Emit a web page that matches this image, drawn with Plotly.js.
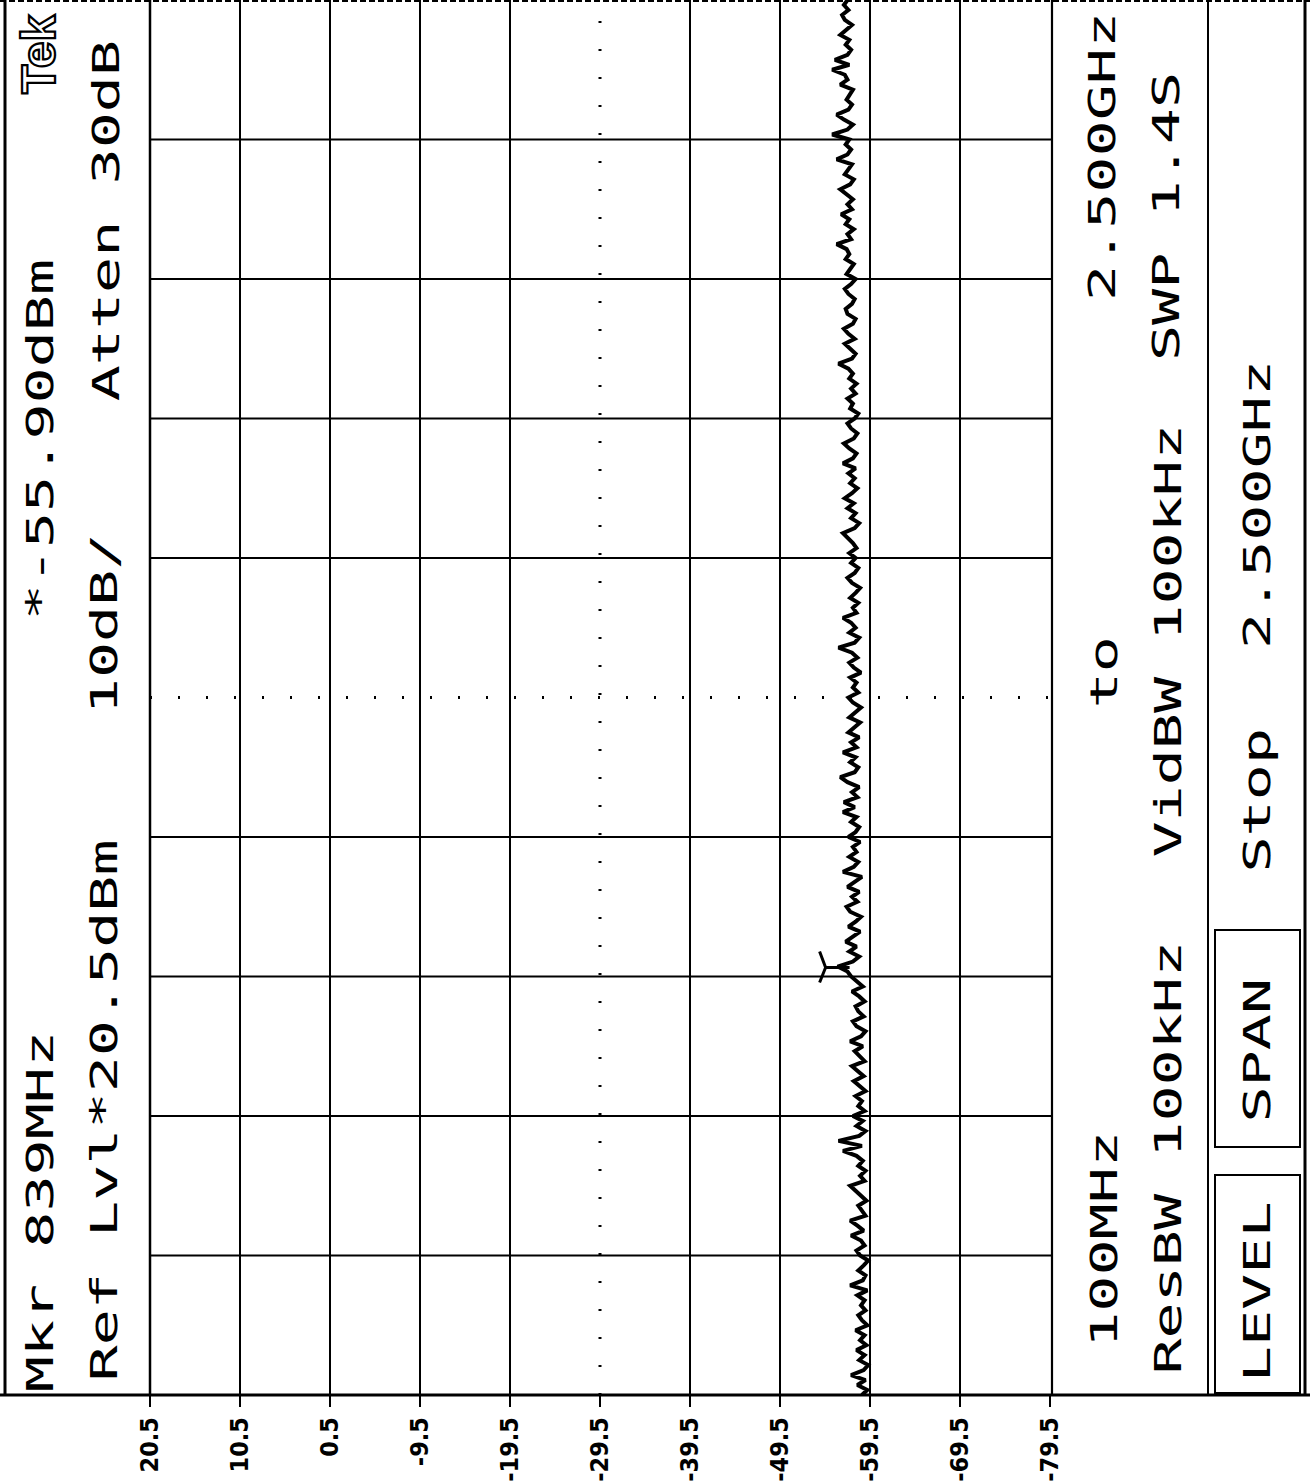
<!DOCTYPE html>
<html>
<head>
<meta charset="utf-8">
<script src="https://cdn.plot.ly/plotly-3.0.1.min.js"></script>
<style>
  html, body { margin: 0; padding: 0; background: #fff; }
  #chart { width: 1310px; height: 1484px; }
  .annotation:not([data-index="15"]) .annotation-text {
    transform-box: fill-box;
    transform-origin: center;
    transform: scaleX(1.58);
  }
  .annotation[data-index="15"] .annotation-text {
    stroke: #000;
    stroke-width: 2.2px;
  }
</style>
</head>
<body>
<div id="chart"></div>
<script>
// ---------------- data ----------------
const FREQ_START_MHZ = 100;
const FREQ_STOP_MHZ = 2500;

// Displayed trace level (dBm), from start frequency (bottom) to stop frequency (top)
const traceLevel_dBm = [
  -58.6,-59.2,-58.1,-59.0,-57.4,-58.8,-59.3,-58.3,-58.9,-58.0,
  -59.1,-58.4,-58.9,-57.9,-59.2,-58.6,-58.2,-59.0,-58.5,-58.9,
  -58.1,-59.2,-57.3,-58.7,-59.0,-58.2,-58.8,-59.3,-58.4,-58.0,
  -58.9,-58.5,-57.4,-58.8,-58.1,-57.3,-59.0,-58.6,-58.2,-59.1,
  -58.5,-58.0,-57.3,-58.9,-58.4,-59.0,-58.2,-58.7,-58.0,-56.5,
  -58.6,-56.0,-58.3,-59.0,-58.0,-58.7,-57.6,-58.9,-58.2,-58.6,
  -57.9,-59.0,-58.3,-57.7,-58.8,-58.1,-57.5,-58.9,-58.4,-57.8,
  -58.7,-57.3,-58.5,-59.0,-58.0,-57.6,-58.8,-58.2,-57.9,-58.9,
  -58.3,-57.5,-58.7,-58.1,-57.4,-57.0,-55.9,-57.6,-58.3,-57.2,
  -58.0,-56.8,-57.6,-58.4,-57.1,-57.9,-58.5,-57.3,-56.9,-58.1,
  -57.5,-58.3,-57.0,-57.8,-58.6,-56.5,-57.7,-58.2,-57.2,-58.0,
  -57.6,-58.4,-57.1,-57.9,-58.3,-57.4,-58.0,-56.5,-57.8,-56.6,
  -58.1,-57.5,-58.3,-57.0,-56.2,-57.8,-58.2,-57.3,-57.9,-56.5,
  -58.0,-57.4,-58.3,-57.1,-57.8,-58.4,-57.2,-57.9,-58.5,-57.6,
  -57.1,-58.2,-57.6,-58.0,-57.3,-58.5,-57.7,-57.2,-58.1,-57.5,
  -56.0,-57.8,-58.3,-57.2,-57.9,-57.4,-56.5,-58.0,-57.6,-58.2,
  -57.3,-57.9,-58.4,-57.5,-57.0,-57.8,-58.2,-57.4,-57.9,-57.2,
  -58.0,-57.6,-57.1,-56.5,-57.8,-58.3,-57.4,-57.9,-57.0,-57.7,
  -56.7,-57.5,-58.1,-57.3,-57.8,-57.1,-57.9,-56.5,-57.6,-58.0,
  -57.2,-56.6,-57.7,-58.1,-57.4,-57.0,-57.8,-58.2,-57.3,-57.6,
  -57.0,-57.9,-57.4,-58.0,-57.2,-57.6,-57.1,-56.0,-57.5,-57.9,
  -57.3,-56.7,-57.8,-57.1,-56.6,-57.6,-57.9,-57.0,-56.8,-57.5,
  -57.8,-57.1,-56.7,-57.4,-57.9,-56.9,-57.3,-57.7,-56.8,-57.2,
  -56.9,-55.8,-57.4,-57.0,-57.7,-56.8,-57.2,-56.3,-57.5,-57.0,
  -57.6,-56.9,-56.2,-57.3,-57.7,-56.7,-57.1,-57.5,-55.8,-57.0,
  -57.4,-56.8,-57.2,-55.3,-57.0,-57.6,-56.6,-55.8,-57.1,-57.5,
  -56.9,-57.3,-57.6,-56.2,-57.0,-56.7,-55.3,-57.2,-55.6,-57.0,
  -57.4,-56.8,-57.2,-56.2,-56.9,-57.5,-56.7,-56.4,-57.1,-56.6,
  -57.0
];

// Level axis ticks (dBm)
const levelTickVals = [20.5, 10.5, 0.5, -9.5, -19.5, -29.5, -39.5, -49.5, -59.5, -69.5, -79.5];
const levelTickText = ['20.5', '10.5', '0.5', '-9.5', '-19.5', '-29.5', '-39.5', '-49.5', '-59.5', '-69.5', '-79.5'];
const levelCenterTick = -29.5;

// Frequency graticule divisions (MHz)
const freqGridMHz = [340, 580, 820, 1060, 1300, 1540, 1780, 2020, 2260];
const freqCenterMHz = 1300;

// Marker
const markerFreqMHz = 839;
const markerLevel_dBm = -55.90;

// Readout texts
const readoutTexts = [
  'Mkr 839MHz', '*-55.90dBm', 'Ref Lvl*20.5dBm', '10dB/', 'Atten 30dB',
  '100MHz', 'to', '2.500GHz', 'ResBW 100kHz', 'VidBW 100kHz', 'SWP 1.4S',
  'LEVEL', 'SPAN', 'Stop', '2.500GHz', 'Tek'
];

// ---------------- layout helpers ----------------
const W = 1310, H = 1484;
const PL = 150, PR = 1050, PT = 0, PB = 1395;
const PX = x => (x - PL) / (PR - PL);
const PY = y => (PB - y) / (PB - PT);

const n = traceLevel_dBm.length;
const stepMHz = (FREQ_STOP_MHZ - FREQ_START_MHZ) / (n - 1);
const traceFreq = traceLevel_dBm.map((_, i) => FREQ_START_MHZ + i * stepMHz);

const traces = [{
  type: 'scatter',
  mode: 'lines',
  x: traceLevel_dBm,
  y: traceFreq,
  line: { color: '#000', width: 4 },
  hoverinfo: 'skip',
  showlegend: false
}];

const shapes = [];
const L = (x0, y0, x1, y1, w, dash) => ({
  type: 'line', xref: 'paper', yref: 'paper',
  x0: PX(x0), y0: PY(y0), x1: PX(x1), y1: PY(y1),
  line: { color: '#000', width: w, dash: dash || 'solid' }
});

// frame lines
shapes.push(L(5, 0, 5, 1395, 3));
shapes.push(L(150, 0, 150, 1395, 2.5));
shapes.push(L(1052, 0, 1052, 1395, 2.2));
shapes.push(L(1208, 0, 1208, 1395, 2));
shapes.push(L(1305, 0, 1305, 1395, 3));
shapes.push(L(0, 1395, 1310, 1395, 3));
shapes.push(L(0, 1, 1310, 1, 2, '6px,3px'));

// vertical graticule (level divisions)
levelTickVals.forEach(v => {
  if (v === levelTickVals[0] || v === levelTickVals[levelTickVals.length - 1]) return;
  const dotted = v === levelCenterTick;
  shapes.push({
    type: 'line', xref: 'x', yref: 'paper', x0: v, x1: v, y0: 0, y1: 1,
    line: { color: '#000', width: dotted ? 3 : 2, dash: dotted ? '2px,26px' : 'solid' }
  });
});
// horizontal graticule (frequency divisions)
freqGridMHz.forEach(f => {
  const dotted = f === freqCenterMHz;
  shapes.push({
    type: 'line', xref: 'paper', yref: 'y', x0: 0, x1: PX(1052), y0: f, y1: f,
    line: { color: '#000', width: dotted ? 3 : 2, dash: dotted ? '2px,26px' : 'solid' }
  });
});

// soft-key boxes
const R = (x0, y0, x1, y1) => ({
  type: 'rect', xref: 'paper', yref: 'paper',
  x0: PX(x0), y0: PY(y0), x1: PX(x1), y1: PY(y1),
  line: { color: '#000', width: 2 }, fillcolor: 'rgba(0,0,0,0)'
});
shapes.push(R(1215, 930, 1300, 1147));
shapes.push(R(1215, 1175, 1300, 1393));

// marker symbol
shapes.push({
  type: 'path', xref: 'x', yref: 'y',
  xsizemode: 'pixel', ysizemode: 'pixel',
  xanchor: markerLevel_dBm, yanchor: markerFreqMHz,
  path: 'M 12 -2 L -12 -2 M -12 -2 L -18 14 M -12 -2 L -18 -17',
  line: { color: '#000', width: 3 }
});

// readout annotations: [text index, x center px, y center px]
const readPos = [
  [0, 40, 1212], [1, 40, 440], [2, 104, 1111], [3, 104, 624], [4, 106, 221],
  [5, 1104, 1240], [6, 1104, 672], [7, 1102, 157],
  [8, 1168, 1158], [9, 1168, 641], [10, 1166, 217],
  [11, 1257, 1292], [12, 1257, 1050], [13, 1257, 800], [14, 1257, 505],
  [15, 38, 55]
];
const monoFont = { family: 'DejaVu Sans Mono, Liberation Mono, monospace', size: 38, color: '#000' };
const annotations = readPos.map(([k, x, y]) => ({
  xref: 'paper', yref: 'paper', x: PX(x), y: PY(y),
  xanchor: 'center', yanchor: 'middle',
  text: readoutTexts[k], showarrow: false, textangle: -90,
  font: k === 15
    ? { family: 'Liberation Sans, Arial, sans-serif', size: 48, weight: 'bold', color: '#fff' }
    : monoFont
}));

const layout = {
  width: W, height: H,
  margin: { l: PL, r: W - PR, t: PT, b: H - PB, pad: 0 },
  paper_bgcolor: '#fff', plot_bgcolor: '#fff',
  showlegend: false,
  xaxis: {
    range: [levelTickVals[0], levelTickVals[levelTickVals.length - 1]],
    tickmode: 'array', tickvals: levelTickVals, ticktext: levelTickText,
    tickangle: -90, ticks: 'outside', ticklen: 11, tickwidth: 2, tickcolor: '#000',
    showgrid: false, zeroline: false, showline: false,
    tickfont: { family: 'Liberation Sans Narrow, DejaVu Sans Condensed, Liberation Sans, Arial, sans-serif', size: 25, weight: 'bold', color: '#000' },
    fixedrange: true
  },
  yaxis: {
    range: [FREQ_START_MHZ, FREQ_STOP_MHZ],
    showticklabels: false, ticks: '', showgrid: false, zeroline: false, showline: false,
    fixedrange: true
  },
  shapes: shapes,
  annotations: annotations
};

Plotly.newPlot('chart', traces, layout, { displayModeBar: false, staticPlot: true });
</script>
</body>
</html>
